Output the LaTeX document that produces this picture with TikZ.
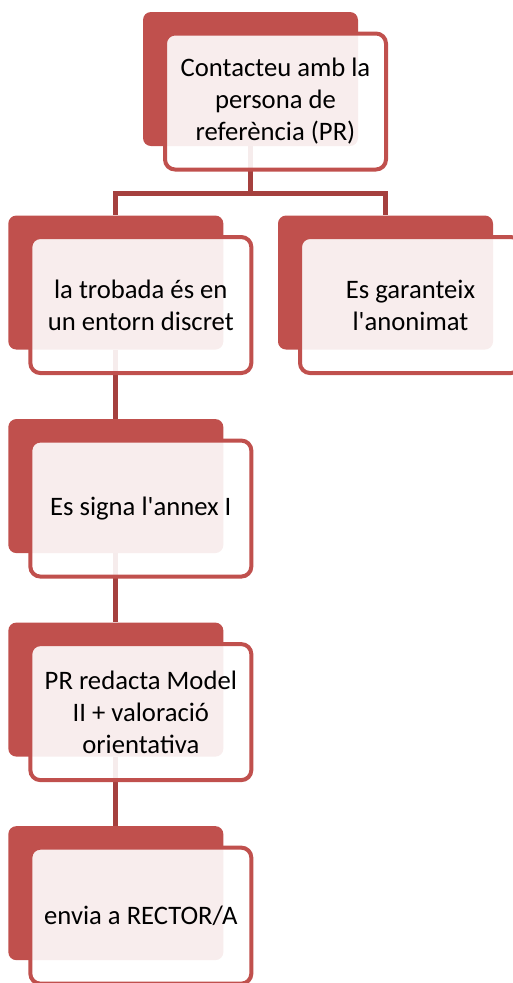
\documentclass[tikz,border=0pt]{standalone}
\usepackage{fontspec}
\setmainfont{Carlito}[Ligatures=TeXOff]
\usetikzlibrary{positioning,backgrounds}
\definecolor{accent}{HTML}{C0504D}
\definecolor{linkred}{HTML}{A5403E}

\begin{document}
\begin{tikzpicture}[x=0.75pt,y=-0.75pt,node distance=51.75pt,
                    font=\fontsize{20}{24}\selectfont]
  \tikzset{backbox/.style={fill=accent,rounded corners=6pt,inner sep=0pt,
                           minimum width=161.25pt,minimum height=100.5pt},
           frontbox/.style={draw=accent,line width=3pt,fill=white,
                            fill opacity=0.9,text opacity=1,rounded corners=7.5pt,
                            inner sep=0pt,align=center,
                            minimum width=165.75pt,minimum height=102pt},
           link/.style={draw=linkred,line width=3.75pt}}
  \useasboundingbox (0,0) rectangle (512,983);

  \node[backbox] (A) at (250.5,79) {};
  \node[backbox, below=of A, xshift=-101pt] (B) {};
  \node[backbox, below=of A, xshift=101.25pt] (C) {};
  \node[backbox, below=of B] (D) {};
  \node[backbox, below=of D] (E) {};
  \node[backbox, below=of E] (F) {};

  \node[frontbox] (a) at ([shift={(25,22.5)}]A.center) {Contacteu amb la\\persona de\\referència (PR)};
  \node[frontbox] (b) at ([shift={(25,22.5)}]B.center) {la trobada és en\\un entorn discret};
  \node[frontbox] (c) at ([shift={(25,22.5)}]C.center) {Es garanteix\\l'anonimat};
  \node[frontbox] (d) at ([shift={(25,22.5)}]D.center) {Es signa l'annex I};
  \node[frontbox] (e) at ([shift={(25,22.5)}]E.center) {PR redacta Model\\II + valoració\\orientativa};
  \node[frontbox] (f) at ([shift={(25,22.5)}]F.center) {envia a RECTOR/A};

  \coordinate (split) at (A.south |- 0,193.5);

  % connectors go behind the boxes
  \begin{scope}[on background layer]
    \draw[link] (A.south) -- (split) -| (B.north);
    \draw[link] (split) -| (C.north);
    \draw[link] (B) -- (D);
    \draw[link] (D) -- (E);
    \draw[link] (E) -- (F);
  \end{scope}
\end{tikzpicture}
\end{document}
